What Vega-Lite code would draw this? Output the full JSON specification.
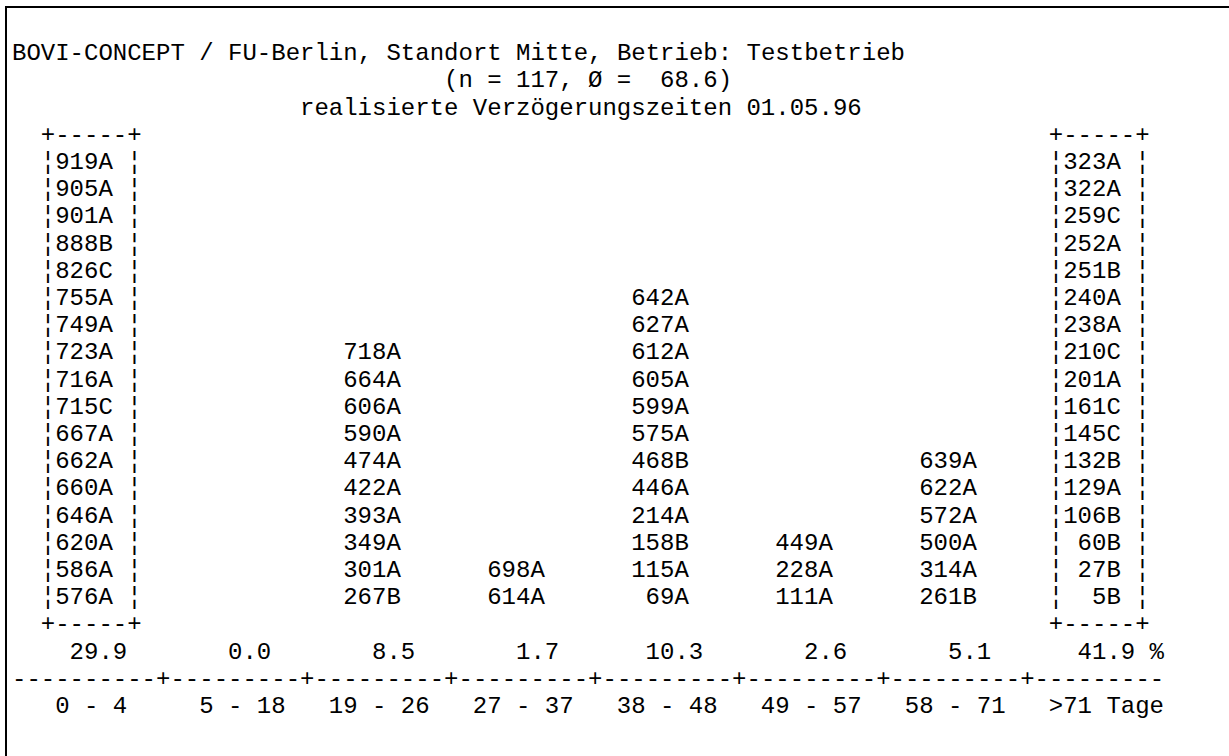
{
  "$schema": "https://vega.github.io/schema/vega-lite/v6.json",
  "width": 1223,
  "height": 749,
  "autosize": {"type": "none"},
  "padding": {"left": 6, "top": 7, "right": 0, "bottom": 0},
  "background": "white",
  "config": {
    "view": {"stroke": null},
    "text": {"font": "Liberation Mono", "fontSize": 24, "color": "black", "baseline": "middle"}
  },
  "datasets": {
    "tiere": [
      {"bin": "0 - 4", "nr": 919, "id": "919A"}, {"bin": "0 - 4", "nr": 905, "id": "905A"}, {"bin": "0 - 4", "nr": 901, "id": "901A"},
      {"bin": "0 - 4", "nr": 888, "id": "888B"}, {"bin": "0 - 4", "nr": 826, "id": "826C"}, {"bin": "0 - 4", "nr": 755, "id": "755A"},
      {"bin": "0 - 4", "nr": 749, "id": "749A"}, {"bin": "0 - 4", "nr": 723, "id": "723A"}, {"bin": "0 - 4", "nr": 716, "id": "716A"},
      {"bin": "0 - 4", "nr": 715, "id": "715C"}, {"bin": "0 - 4", "nr": 667, "id": "667A"}, {"bin": "0 - 4", "nr": 662, "id": "662A"},
      {"bin": "0 - 4", "nr": 660, "id": "660A"}, {"bin": "0 - 4", "nr": 646, "id": "646A"}, {"bin": "0 - 4", "nr": 620, "id": "620A"},
      {"bin": "0 - 4", "nr": 586, "id": "586A"}, {"bin": "0 - 4", "nr": 576, "id": "576A"},
      {"bin": "19 - 26", "nr": 718, "id": "718A"}, {"bin": "19 - 26", "nr": 664, "id": "664A"}, {"bin": "19 - 26", "nr": 606, "id": "606A"},
      {"bin": "19 - 26", "nr": 590, "id": "590A"}, {"bin": "19 - 26", "nr": 474, "id": "474A"}, {"bin": "19 - 26", "nr": 422, "id": "422A"},
      {"bin": "19 - 26", "nr": 393, "id": "393A"}, {"bin": "19 - 26", "nr": 349, "id": "349A"}, {"bin": "19 - 26", "nr": 301, "id": "301A"},
      {"bin": "19 - 26", "nr": 267, "id": "267B"},
      {"bin": "27 - 37", "nr": 698, "id": "698A"}, {"bin": "27 - 37", "nr": 614, "id": "614A"},
      {"bin": "38 - 48", "nr": 642, "id": "642A"}, {"bin": "38 - 48", "nr": 627, "id": "627A"}, {"bin": "38 - 48", "nr": 612, "id": "612A"},
      {"bin": "38 - 48", "nr": 605, "id": "605A"}, {"bin": "38 - 48", "nr": 599, "id": "599A"}, {"bin": "38 - 48", "nr": 575, "id": "575A"},
      {"bin": "38 - 48", "nr": 468, "id": "468B"}, {"bin": "38 - 48", "nr": 446, "id": "446A"}, {"bin": "38 - 48", "nr": 214, "id": "214A"},
      {"bin": "38 - 48", "nr": 158, "id": "158B"}, {"bin": "38 - 48", "nr": 115, "id": "115A"}, {"bin": "38 - 48", "nr": 69, "id": "69A"},
      {"bin": "49 - 57", "nr": 449, "id": "449A"}, {"bin": "49 - 57", "nr": 228, "id": "228A"}, {"bin": "49 - 57", "nr": 111, "id": "111A"},
      {"bin": "58 - 71", "nr": 639, "id": "639A"}, {"bin": "58 - 71", "nr": 622, "id": "622A"}, {"bin": "58 - 71", "nr": 572, "id": "572A"},
      {"bin": "58 - 71", "nr": 500, "id": "500A"}, {"bin": "58 - 71", "nr": 314, "id": "314A"}, {"bin": "58 - 71", "nr": 261, "id": "261B"},
      {"bin": ">71 Tage", "nr": 323, "id": "323A"}, {"bin": ">71 Tage", "nr": 322, "id": "322A"}, {"bin": ">71 Tage", "nr": 259, "id": "259C"},
      {"bin": ">71 Tage", "nr": 252, "id": "252A"}, {"bin": ">71 Tage", "nr": 251, "id": "251B"}, {"bin": ">71 Tage", "nr": 240, "id": "240A"},
      {"bin": ">71 Tage", "nr": 238, "id": "238A"}, {"bin": ">71 Tage", "nr": 210, "id": "210C"}, {"bin": ">71 Tage", "nr": 201, "id": "201A"},
      {"bin": ">71 Tage", "nr": 161, "id": "161C"}, {"bin": ">71 Tage", "nr": 145, "id": "145C"}, {"bin": ">71 Tage", "nr": 132, "id": "132B"},
      {"bin": ">71 Tage", "nr": 129, "id": "129A"}, {"bin": ">71 Tage", "nr": 106, "id": "106B"}, {"bin": ">71 Tage", "nr": 60, "id": "60B"},
      {"bin": ">71 Tage", "nr": 27, "id": "27B"}, {"bin": ">71 Tage", "nr": 5, "id": "5B"}
    ],
    "klassen": [
      {"bin": "0 - 4", "lo": 0, "hi": 4, "pct": 29.9},
      {"bin": "5 - 18", "lo": 5, "hi": 18, "pct": 0.0},
      {"bin": "19 - 26", "lo": 19, "hi": 26, "pct": 8.5},
      {"bin": "27 - 37", "lo": 27, "hi": 37, "pct": 1.7},
      {"bin": "38 - 48", "lo": 38, "hi": 48, "pct": 10.3},
      {"bin": "49 - 57", "lo": 49, "hi": 57, "pct": 2.6},
      {"bin": "58 - 71", "lo": 58, "hi": 71, "pct": 5.1},
      {"bin": ">71 Tage", "lo": 72, "hi": null, "pct": 41.9}
    ]
  },
  "layer": [
    {
      "data": {"name": "tiere"},
      "transform": [
        {"window": [{"op": "row_number", "as": "rank"}], "groupby": ["bin"], "sort": [{"field": "nr", "order": "ascending"}]}
      ],
      "mark": {"type": "text", "align": "right", "dx": 100.8},
      "encoding": {
        "x": {
          "field": "bin", "type": "nominal", "bandPosition": 0, "axis": null,
          "scale": {"type": "band", "domain": ["0 - 4", "5 - 18", "19 - 26", "27 - 37", "38 - 48", "49 - 57", "58 - 71", ">71 Tage"], "paddingInner": 0, "paddingOuter": 0.24653, "align": 0.084507}
        },
        "y": {
          "field": "rank", "type": "quantitative", "axis": null,
          "scale": {"domain": [-4.8382, 22.6985], "nice": false, "zero": false}
        },
        "text": {"field": "id", "type": "nominal"}
      }
    },
    {
      "data": {"values": [{}]},
      "mark": {"type": "rule", "color": "black", "strokeWidth": 2, "strokeCap": "square"},
      "encoding": {
        "x": {"value": 0},
        "y": {"value": 0},
        "y2": {"value": "height"}
      }
    },
    {
      "data": {"values": [{}]},
      "mark": {"type": "rule", "color": "black", "strokeWidth": 2, "strokeCap": "square"},
      "encoding": {
        "x": {"value": 0},
        "x2": {"value": "width"},
        "y": {"value": 0}
      }
    },
    {
      "data": {"name": "tiere"},
      "transform": [
        {"filter": {"field": "bin", "oneOf": ["0 - 4", ">71 Tage"]}},
        {"window": [{"op": "row_number", "as": "rank"}], "groupby": ["bin"], "sort": [{"field": "nr", "order": "ascending"}]}
      ],
      "mark": {"type": "text", "align": "left", "dx": 28.8, "text": "¦"},
      "encoding": {
        "x": {"field": "bin", "type": "nominal", "bandPosition": 0, "axis": null},
        "y": {"field": "rank", "type": "quantitative", "axis": null}
      }
    },
    {
      "data": {"name": "tiere"},
      "transform": [
        {"filter": {"field": "bin", "oneOf": ["0 - 4", ">71 Tage"]}},
        {"window": [{"op": "row_number", "as": "rank"}], "groupby": ["bin"], "sort": [{"field": "nr", "order": "ascending"}]}
      ],
      "mark": {"type": "text", "align": "left", "dx": 115.2, "text": "¦"},
      "encoding": {
        "x": {"field": "bin", "type": "nominal", "bandPosition": 0, "axis": null},
        "y": {"field": "rank", "type": "quantitative", "axis": null}
      }
    },
    {
      "data": {"name": "klassen"},
      "transform": [{"filter": {"field": "bin", "oneOf": ["0 - 4", ">71 Tage"]}}],
      "mark": {"type": "text", "align": "left", "dx": 28.8, "text": "+-----+"},
      "encoding": {
        "x": {"field": "bin", "type": "nominal", "bandPosition": 0, "axis": null},
        "y": {"datum": 18, "type": "quantitative", "axis": null}
      }
    },
    {
      "data": {"name": "klassen"},
      "transform": [{"filter": {"field": "bin", "oneOf": ["0 - 4", ">71 Tage"]}}],
      "mark": {"type": "text", "align": "left", "dx": 28.8, "text": "+-----+"},
      "encoding": {
        "x": {"field": "bin", "type": "nominal", "bandPosition": 0, "axis": null},
        "y": {"datum": 0, "type": "quantitative", "axis": null}
      }
    },
    {
      "data": {"name": "klassen"},
      "mark": {"type": "text", "align": "right", "dx": 115.2},
      "encoding": {
        "x": {"field": "bin", "type": "nominal", "bandPosition": 0, "axis": null},
        "y": {"datum": -1, "type": "quantitative", "axis": null},
        "text": {"field": "pct", "type": "quantitative", "format": ".1f"}
      }
    },
    {
      "data": {"name": "klassen"},
      "transform": [{"filter": {"field": "bin", "equal": ">71 Tage"}}],
      "mark": {"type": "text", "align": "left", "dx": 129.6, "text": "%"},
      "encoding": {
        "x": {"field": "bin", "type": "nominal", "bandPosition": 0, "axis": null},
        "y": {"datum": -1, "type": "quantitative", "axis": null}
      }
    },
    {
      "data": {"values": [{}]},
      "mark": {"type": "text", "align": "left", "text": "----------+---------+---------+---------+---------+---------+---------+---------"},
      "encoding": {
        "x": {"datum": "0 - 4", "type": "nominal", "bandPosition": 0, "axis": null},
        "y": {"datum": -2, "type": "quantitative", "axis": null}
      }
    },
    {
      "data": {"name": "klassen"},
      "transform": [{"filter": "datum.lo < 10"}],
      "mark": {"type": "text", "align": "left", "dx": 43.2},
      "encoding": {
        "x": {"field": "bin", "type": "nominal", "bandPosition": 0, "axis": null},
        "y": {"datum": -3, "type": "quantitative", "axis": null},
        "text": {"field": "bin", "type": "nominal"}
      }
    },
    {
      "data": {"name": "klassen"},
      "transform": [{"filter": "datum.lo >= 10"}],
      "mark": {"type": "text", "align": "left", "dx": 28.8},
      "encoding": {
        "x": {"field": "bin", "type": "nominal", "bandPosition": 0, "axis": null},
        "y": {"datum": -3, "type": "quantitative", "axis": null},
        "text": {"field": "bin", "type": "nominal"}
      }
    },
    {
      "data": {"values": [{}]},
      "mark": {"type": "text", "align": "left", "text": "BOVI-CONCEPT / FU-Berlin, Standort Mitte, Betrieb: Testbetrieb"},
      "encoding": {
        "x": {"datum": "0 - 4", "type": "nominal", "bandPosition": 0, "axis": null},
        "y": {"datum": 21, "type": "quantitative", "axis": null}
      }
    },
    {
      "data": {"values": [{}]},
      "mark": {"type": "text", "align": "center", "text": "(n = 117, Ø =\u00a0 68.6)"},
      "encoding": {
        "x": {"datum": "38 - 48", "type": "nominal", "bandPosition": 0, "axis": null},
        "y": {"datum": 20, "type": "quantitative", "axis": null}
      }
    },
    {
      "data": {"values": [{}]},
      "mark": {"type": "text", "align": "left", "text": "realisierte Verzögerungszeiten 01.05.96"},
      "encoding": {
        "x": {"datum": "19 - 26", "type": "nominal", "bandPosition": 0, "axis": null},
        "y": {"datum": 19, "type": "quantitative", "axis": null}
      }
    }
  ]
}
